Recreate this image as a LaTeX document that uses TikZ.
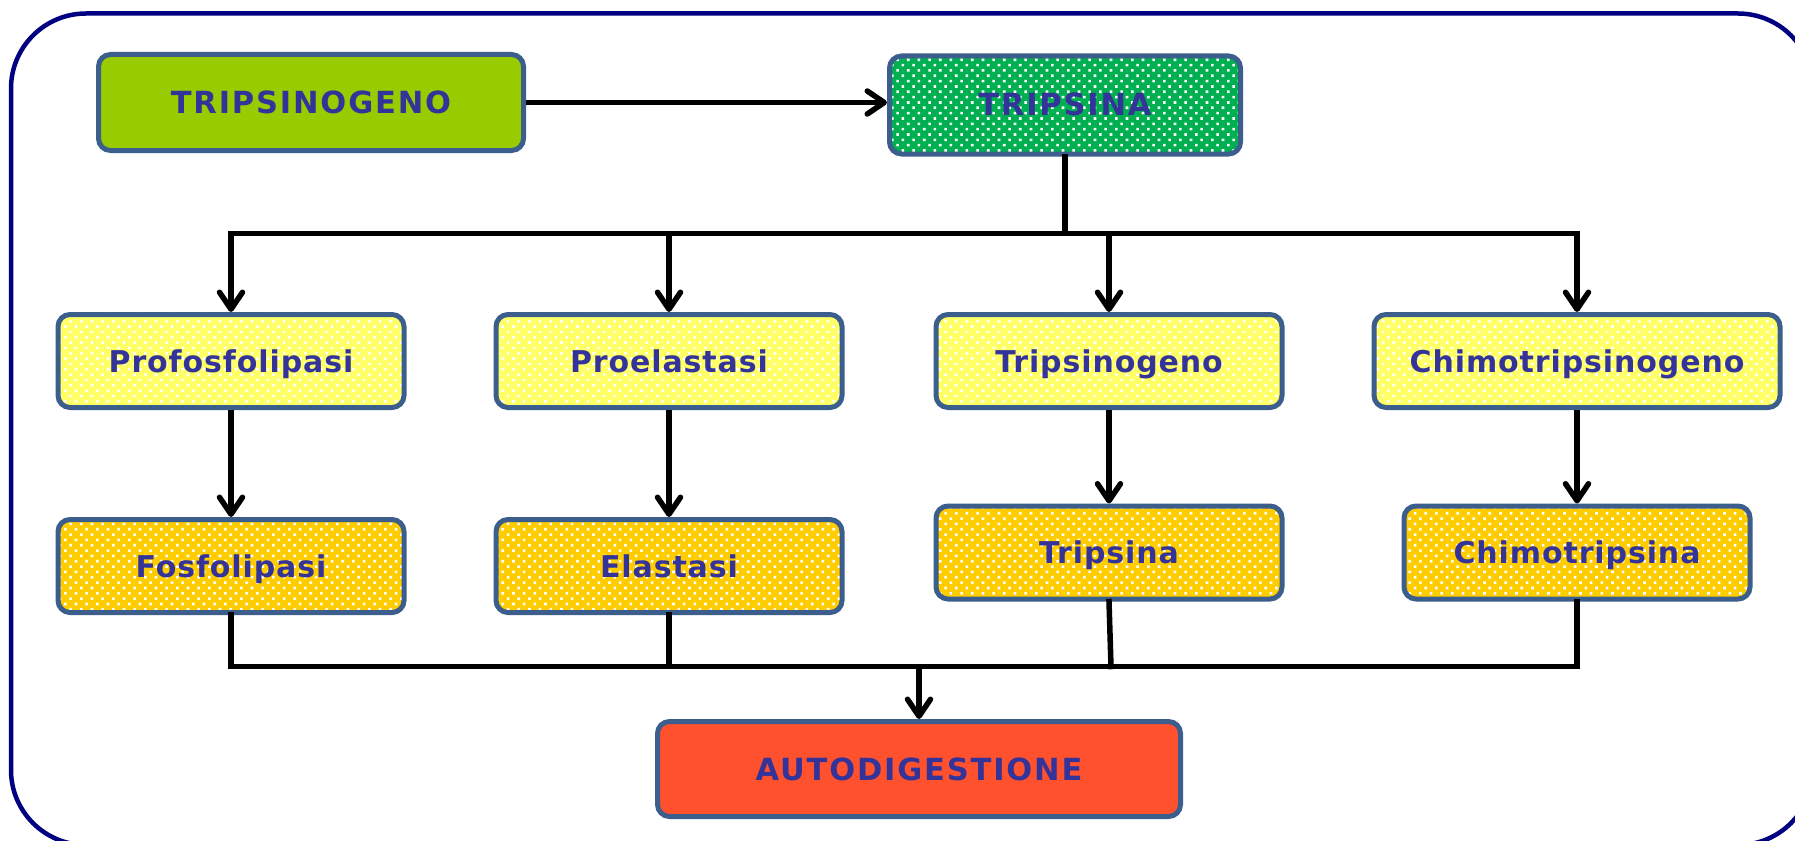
\documentclass[tikz,border=0pt]{standalone}
\usepackage{fontspec}
\usetikzlibrary{arrows.meta,patterns}
\newfontfamily\capsfont{DejaVu Sans}[LetterSpace=6]
\newfontfamily\lowfont{DejaVu Sans}[LetterSpace=3]
\definecolor{framec}{RGB}{0,0,128}
\definecolor{bordc}{RGB}{59,94,140}
\definecolor{txtc}{RGB}{51,51,153}
\definecolor{limec}{RGB}{153,204,0}
\definecolor{greenc}{RGB}{0,176,80}
\definecolor{lightyc}{RGB}{255,255,102}
\definecolor{goldc}{RGB}{255,204,0}
\definecolor{redc}{RGB}{255,81,46}
\pgfdeclarepatternformonly{wdots}{\pgfqpoint{-1pt}{-1pt}}{\pgfqpoint{12pt}{12pt}}{\pgfqpoint{10.67pt}{10.67pt}}{%
  \pgfpathrectangle{\pgfqpoint{0pt}{0pt}}{\pgfqpoint{2.6pt}{2.6pt}}%
  \pgfpathrectangle{\pgfqpoint{5.33pt}{5.33pt}}{\pgfqpoint{2.6pt}{2.6pt}}%
  \pgfusepath{fill}}
\tikzset{
  box/.style={draw=bordc, line width=5pt, rounded corners=12pt, inner sep=0pt,
    text=txtc, align=center, text height=22pt, text depth=0pt},
  capbox/.style={box, font=\capsfont\bfseries\fontsize{30.5}{36}\selectfont},
  lowbox/.style={box, font=\lowfont\bfseries\fontsize{30}{36}\selectfont},
  dotted fill/.style={preaction={fill=#1}, preaction={pattern=wdots, pattern color=white}},
  conn/.style={draw=black, line width=5.5pt, line cap=rect},
  arr/.style={draw=black, line width=5.5pt, -{Straight Barb[length=17pt,width=23pt,round]}},
}
\begin{document}
\begin{tikzpicture}[x=1pt,y=-1pt]
\useasboundingbox (0,0) rectangle (1795,840);
\begin{scope}
  \clip (0,0) rectangle (1795,840);
  \draw[framec, line width=4.5pt, rounded corners=75pt] (11,13.5) rectangle (1813,845);
\end{scope}
% top row
\node[capbox, fill=limec, minimum width=425pt, minimum height=96pt] (tgo) at (311,102.5) {TRIPSINOGENO};
\node[capbox, dotted fill=greenc, minimum width=351pt, minimum height=98pt] (tna) at (1065,105) {TRIPSINA};
% second row
\node[lowbox, dotted fill=lightyc, minimum width=346pt, minimum height=93pt] (pfl) at (231,361) {Profosfolipasi};
\node[lowbox, dotted fill=lightyc, minimum width=346pt, minimum height=93pt] (pel) at (669,361) {Proelastasi};
\node[lowbox, dotted fill=lightyc, minimum width=346pt, minimum height=93pt] (ptg) at (1109,361) {Tripsinogeno};
\node[lowbox, dotted fill=lightyc, minimum width=406pt, minimum height=93pt] (pch) at (1577,361) {Chimotripsinogeno};
% third row
\node[lowbox, dotted fill=goldc, minimum width=346pt, minimum height=93pt] (fl) at (231,566) {Fosfolipasi};
\node[lowbox, dotted fill=goldc, minimum width=346pt, minimum height=93pt] (el) at (669,566) {Elastasi};
\node[lowbox, dotted fill=goldc, minimum width=346pt, minimum height=93pt] (tr) at (1109,552.5) {Tripsina};
\node[lowbox, dotted fill=goldc, minimum width=346pt, minimum height=93pt] (ch) at (1577,552.5) {Chimotripsina};
% bottom
\node[capbox, fill=redc, minimum width=523pt, minimum height=95pt] (auto) at (919,769) {AUTODIGESTIONE};
% connectors
\coordinate (b1) at (1065,233.5);
\coordinate (b2) at (919,666.5);
\coordinate (tb) at (1111,666.5);
\draw[arr] (tgo.east) -- (tgo.east -| tna.west);
\draw[conn] (tna.south) -- (b1);
\draw[conn] (b1 -| pfl.north) -- (b1 -| pch.north);
\draw[arr] (b1 -| pfl.north) -- (pfl.north);
\draw[arr] (b1 -| pel.north) -- (pel.north);
\draw[arr] (b1 -| ptg.north) -- (ptg.north);
\draw[arr] (b1 -| pch.north) -- (pch.north);
\draw[arr] (pfl.south) -- (fl.north);
\draw[arr] (pel.south) -- (el.north);
\draw[arr] (ptg.south) -- (tr.north);
\draw[arr] (pch.south) -- (ch.north);
\draw[conn] (fl.south) -- (b2 -| fl.south);
\draw[conn] (el.south) -- (b2 -| el.south);
\draw[conn] (tr.south) -- (tb);
\draw[conn] (ch.south) -- (b2 -| ch.south);
\draw[conn] (b2 -| fl.south) -- (b2 -| ch.south);
\draw[arr] (b2) -- (auto.north);
\end{tikzpicture}
\end{document}
